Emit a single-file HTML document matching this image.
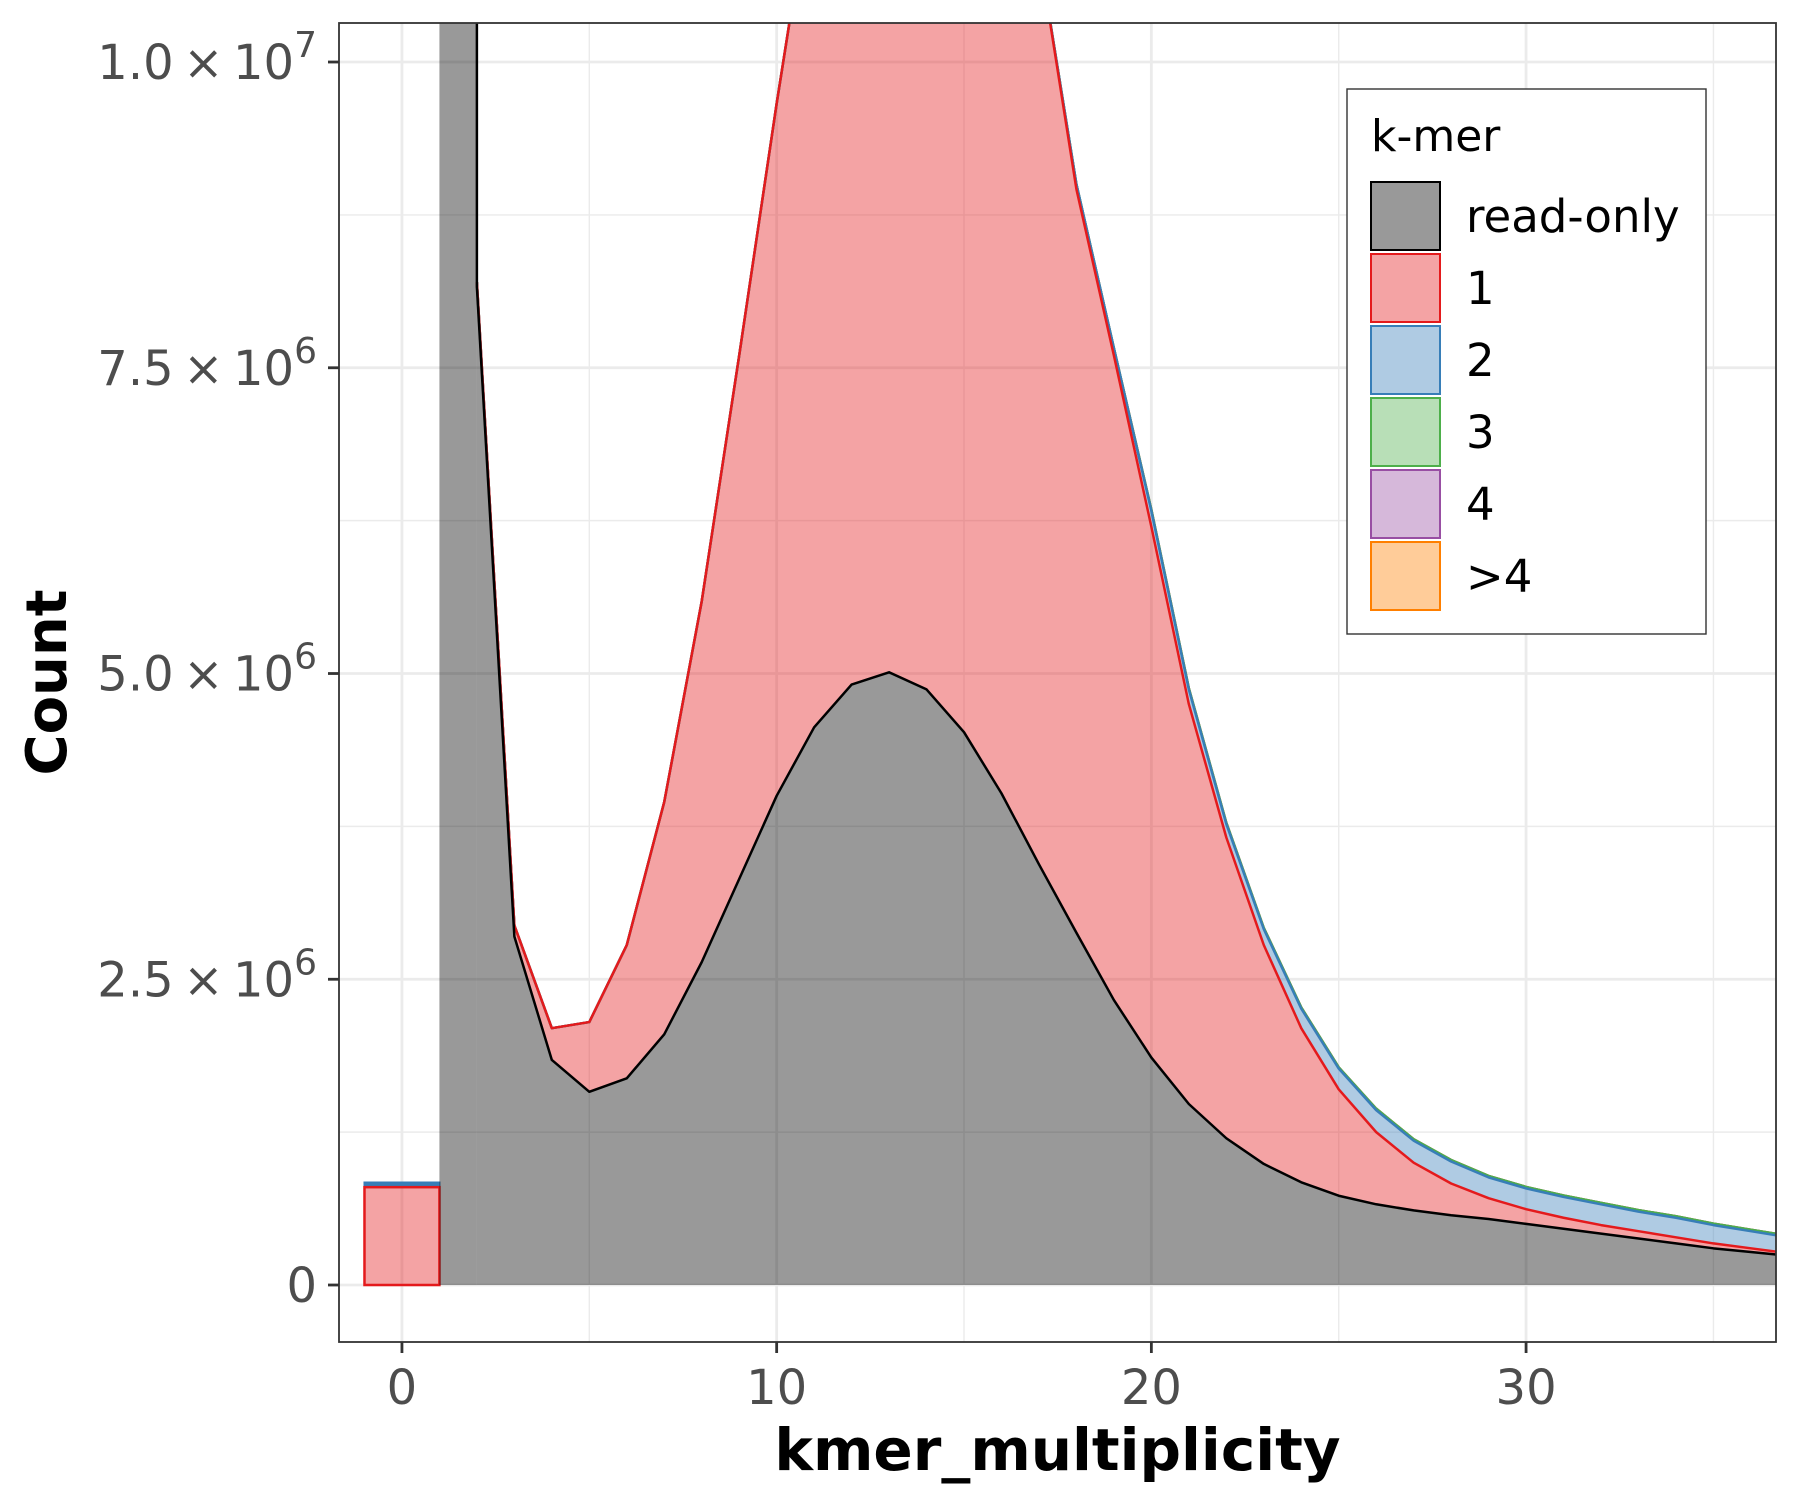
<!DOCTYPE html>
<html><head><meta charset="utf-8"><style>
html,body{margin:0;padding:0;background:#fff;}
svg{display:block;font-family:"DejaVu Sans","Liberation Sans",sans-serif;}
</style></head><body>
<svg id="chart" width="1800" height="1500" viewBox="0 0 1800 1500">
<rect x="0" y="0" width="1800" height="1500" fill="#fff"/>
<g id="grid"></g>
<g id="areas"></g>
<g id="axes"></g>
<g id="legend"></g>
</svg>
<script>
// ---- data ----
const xs = [2,3,4,5,6,7,8,9,10,11,12,13,14,15,16,17,18,19,20,21,22,23,24,25,26,27,28,29,30,31,32,33,34,35,36,37];
const readOnly = [8.16,2.85,1.84,1.58,1.69,2.05,2.64,3.32,4.0,4.56,4.91,5.01,4.87,4.52,4.02,3.44,2.88,2.33,1.86,1.48,1.2,0.99,0.84,0.73,0.66,0.61,0.57,0.54,0.50,0.46,0.42,0.38,0.34,0.30,0.27,0.24];
const k1 = [0.04,0.09,0.26,0.57,1.09,1.90,2.95,4.28,5.66,7.04,7.99,8.59,8.63,8.28,7.78,7.46,6.08,5.27,4.34,3.27,2.46,1.79,1.26,0.87,0.59,0.39,0.26,0.17,0.12,0.09,0.07,0.06,0.05,0.04,0.03,0.02];
const k2 = [0,0,0,0,0,0,0,0,0,0,0,0,0,0,0,0,0.04,0.06,0.13,0.12,0.11,0.13,0.16,0.17,0.18,0.18,0.18,0.17,0.17,0.17,0.17,0.16,0.16,0.15,0.14,0.13];
const k3 = [0,0,0,0,0,0,0,0,0,0,0,0,0,0,0,0,0,0,0.01,0.01,0.01,0.01,0.01,0.01,0.012,0.012,0.012,0.012,0.012,0.012,0.012,0.012,0.012,0.012,0.012,0.012];
const k4 = [0,0,0,0,0,0,0,0,0,0,0,0,0,0,0,0,0,0,0,0,0,0,0,0,0,0,0,0,0,0,0,0,0,0,0,0];
const k5 = [0,0,0,0,0,0,0,0,0,0,0,0,0,0,0,0,0,0,0,0,0,0,0,0,0,0,0,0,0,0,0,0,0,0,0,0];
const zeroBarX = 0;
const zeroBarK1 = 0.80;
const zeroBarK2 = 0.03;
const firstBarX = 1;
const firstBarReadOnly = 60;
const xTicks = [0,10,20,30];
const xTickLabels = ["0","10","20","30"];
const xMinor = [5,15,25,35];
const yTicks = [0,2.5,5,7.5,10];
const yTickMant = ["0","2.5","5.0","7.5","1.0"];
const yTickExp = ["","6","6","6","7"];
const yMinor = [1.25,3.75,6.25,8.75];
const legendLabels = ["read-only","1","2","3","4",">4"];
// ---- layout ----
const PL=339, PR=1776, PT=23, PB=1342;
const X0=-1.68, X1=36.67;
const Y0=-0.466, Y1=10.319;
const sx=v=>PL+(v-X0)/(X1-X0)*(PR-PL);
const sy=v=>PB-(v-Y0)/(Y1-Y0)*(PB-PT);
const NS="http://www.w3.org/2000/svg";
function mk(tag,attrs,parent){const e=document.createElementNS(NS,tag);for(const k in attrs)e.setAttribute(k,attrs[k]);parent.appendChild(e);return e;}
const grid=document.getElementById('grid'),areas=document.getElementById('areas'),axes=document.getElementById('axes'),legend=document.getElementById('legend');
// grid
xMinor.forEach(v=>{const l=mk('line',{x1:sx(v),x2:sx(v),y1:PT,y2:PB,stroke:'#ebebeb','stroke-width':1.4},grid);

});
yMinor.forEach(v=>{const l=mk('line',{x1:PL,x2:PR,y1:sy(v),y2:sy(v),stroke:'#ebebeb','stroke-width':1.4},grid);

});
xTicks.forEach(v=>{const l=mk('line',{x1:sx(v),x2:sx(v),y1:PT,y2:PB,stroke:'#ebebeb','stroke-width':2.8},grid);

});
yTicks.forEach(v=>{const l=mk('line',{x1:PL,x2:PR,y1:sy(v),y2:sy(v),stroke:'#ebebeb','stroke-width':2.8},grid);

});
// stacking
const comps=[readOnly,k1,k2,k3,k4,k5];
const cum=[];let run=xs.map(()=>0);
comps.forEach(c=>{run=run.map((r,i)=>r+c[i]);cum.push(run.slice());});
const fills=['rgba(0,0,0,0.4)','rgba(228,26,28,0.4)','rgba(55,126,184,0.4)','rgba(77,175,74,0.4)','rgba(152,78,163,0.4)','rgba(255,127,0,0.4)'];
const strokes=['#000','#E41A1C','#377EB8','#4DAF4A','#984EA3','#FF7F00'];
const names=['read-only','k1','k2','k3','k4','k-gt4'];
// clip
const defs=mk('defs',{},areas);const cp=mk('clipPath',{id:'pc'},defs);mk('rect',{x:PL,y:PT,width:PR-PL,height:PB-PT},cp);
const g=mk('g',{'clip-path':'url(#pc)'},areas);
// zero bar (x=0)
const zb2=mk('rect',{x:sx(zeroBarX-1)-1,y:sy(zeroBarK1+zeroBarK2)-2,width:sx(zeroBarX+1)-sx(zeroBarX-1)+2,height:sy(zeroBarK1)-sy(zeroBarK1+zeroBarK2)+3,fill:strokes[2]},g);


const zb=mk('rect',{x:sx(zeroBarX-1),y:sy(zeroBarK1),width:sx(zeroBarX+1)-sx(zeroBarX-1),height:sy(0)-sy(zeroBarK1),fill:fills[1],stroke:strokes[1],'stroke-width':2.5},g);


// first bar read-only
const fb=mk('rect',{x:sx(firstBarX),y:sy(firstBarReadOnly),width:sx(xs[0])-sx(firstBarX),height:sy(0)-sy(firstBarReadOnly),fill:fills[0]},g);


// areas
for(let s=0;s<comps.length;s++){
  const top=cum[s];const bot=s===0?xs.map(()=>0):cum[s-1];
  let d='M'+xs.map((x,i)=>sx(x)+','+sy(top[i])).join(' L');
  d+=' L'+xs.slice().reverse().map((x,j)=>{const i=xs.length-1-j;return sx(x)+','+sy(bot[i]);}).join(' L')+' Z';
  const a=mk('path',{d:d,fill:fills[s],stroke:'none'},g);
  
  
}
for(let s=comps.length-1;s>=0;s--){
  const top=cum[s];
  let d='M'+xs.map((x,i)=>sx(x)+','+sy(top[i])).join(' L');
  if(s===0) d='M'+sx(xs[0])+','+sy(firstBarReadOnly)+' L'+d.slice(1);
  const l=mk('path',{d:d,fill:'none',stroke:strokes[s],'stroke-width':2.5,'stroke-linejoin':'round'},g);
  
  
}
// panel border
const pb=mk('rect',{x:PL,y:PT,width:PR-PL,height:PB-PT,fill:'none',stroke:'#333','stroke-width':1.8},axes);


// x ticks
xTicks.forEach((v,i)=>{
  const t=mk('line',{x1:sx(v),x2:sx(v),y1:PB,y2:PB+11,stroke:'#333','stroke-width':2.8},axes);
  
  
  const tx=mk('text',{x:sx(v),y:PB+62,'text-anchor':'middle','font-size':48,fill:'#4d4d4d'},axes);
  tx.textContent=xTickLabels[i];
  
  
});
yTicks.forEach((v,i)=>{
  const t=mk('line',{x1:PL-11,x2:PL,y1:sy(v),y2:sy(v),stroke:'#333','stroke-width':2.8},axes);
  
  
  const tx=mk('text',{x:PL-22,y:sy(v)+17,'text-anchor':'end','font-size':48,fill:'#4d4d4d'},axes);
  if(yTickExp[i]===''){tx.textContent=yTickMant[i];}
  else{
    const a=mk('tspan',{},tx);a.textContent=yTickMant[i]+'\u2009\u00d7\u200910';
    const b=mk('tspan',{dy:-22,'font-size':36},tx);b.textContent=yTickExp[i];
  }
  
  
});
const xt=mk('text',{x:(PL+PR)/2,y:1470,'text-anchor':'middle','font-size':58,'font-weight':'bold',fill:'#000'},axes);
xt.textContent='kmer_multiplicity';


const yt=mk('text',{x:0,y:0,'text-anchor':'middle','font-size':56,'font-weight':'bold',fill:'#000',transform:'translate(66,'+((PT+PB)/2)+') rotate(-90)'},axes);
yt.textContent='Count';


// legend
const lb=mk('rect',{x:1347,y:89,width:359,height:545,fill:'#fff',stroke:'#333','stroke-width':1.4},legend);


const lt=mk('text',{x:1371,y:151,'font-size':44,fill:'#000'},legend);
lt.textContent='k-mer';


const rowY=[216,288,360,432,504,576];
legendLabels.forEach((lab,i)=>{
  const gg=mk('g',{},legend);
  
  
  mk('rect',{x:1371,y:rowY[i]-34,width:69,height:68,fill:'#fff'},gg);
  mk('rect',{x:1371,y:rowY[i]-34,width:69,height:68,fill:fills[i],stroke:strokes[i],'stroke-width':2},gg);
  const t=mk('text',{x:1466,y:rowY[i]+16,'font-size':45,fill:'#000'},gg);
  t.textContent=lab;
});
</script>
</body></html>
